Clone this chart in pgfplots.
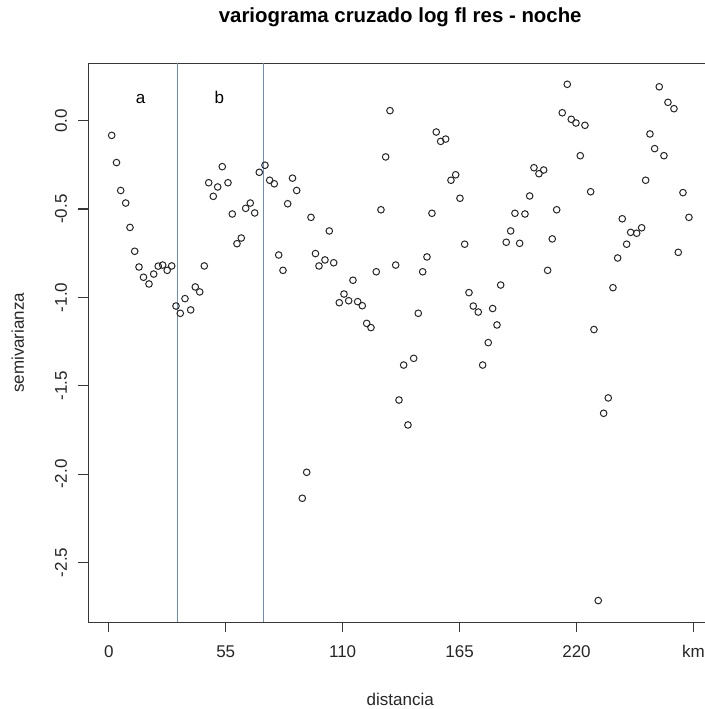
\documentclass[border=0pt]{standalone}
\usepackage{pgfplots}
\pgfplotsset{compat=1.18}
\usepackage{pgfplotstable}
\usepackage{fontspec}
\setmainfont{Liberation Sans}
\definecolor{vline}{RGB}{105,140,195}
\definecolor{axgray}{RGB}{55,55,55}
\pgfplotstableread{
x y
1.36 -0.083
3.62 -0.237
5.60 -0.395
7.95 -0.466
9.97 -0.604
12.18 -0.739
14.21 -0.828
16.32 -0.886
18.91 -0.924
21.12 -0.868
23.24 -0.823
25.35 -0.817
27.47 -0.847
29.59 -0.822
31.61 -1.049
33.63 -1.090
35.84 -1.007
38.52 -1.071
40.69 -0.941
42.76 -0.969
44.92 -0.822
46.99 -0.351
49.15 -0.428
51.22 -0.375
53.39 -0.260
56.07 -0.351
58.09 -0.528
60.30 -0.696
62.32 -0.664
64.39 -0.496
66.56 -0.466
68.63 -0.522
70.79 -0.292
73.47 -0.252
75.68 -0.337
77.85 -0.357
79.92 -0.760
81.94 -0.847
84.15 -0.470
86.41 -0.325
88.38 -0.395
91.02 -2.137
93.09 -1.990
95.11 -0.547
97.22 -0.752
98.87 -0.822
101.69 -0.788
103.72 -0.624
105.79 -0.804
108.42 -1.030
110.63 -0.981
112.84 -1.019
114.86 -0.903
117.07 -1.024
119.24 -1.047
121.31 -1.147
123.33 -1.171
125.82 -0.855
128.03 -0.504
130.24 -0.205
132.27 0.057
134.95 -0.817
136.50 -1.581
138.71 -1.383
140.73 -1.722
143.41 -1.345
145.58 -1.090
147.65 -0.855
149.67 -0.771
152.02 -0.524
154.04 -0.064
156.11 -0.117
158.47 -0.104
160.96 -0.337
163.17 -0.306
165.19 -0.439
167.40 -0.699
169.43 -0.973
171.45 -1.049
173.80 -1.083
175.87 -1.383
178.50 -1.256
180.57 -1.063
182.60 -1.156
184.34 -0.930
186.97 -0.688
189.04 -0.624
191.06 -0.524
193.27 -0.694
195.77 -0.528
197.98 -0.426
200.00 -0.266
202.35 -0.300
204.56 -0.279
206.44 -0.847
208.61 -0.669
210.68 -0.504
213.31 0.045
215.66 0.206
217.55 0.008
219.76 -0.013
221.78 -0.198
223.99 -0.026
226.67 -0.402
228.22 -1.182
230.24 -2.716
232.78 -1.656
234.95 -1.569
237.16 -0.945
239.37 -0.777
241.53 -0.555
243.60 -0.699
245.48 -0.632
248.31 -0.637
250.66 -0.606
252.54 -0.337
254.56 -0.075
256.77 -0.158
258.94 0.192
261.15 -0.198
263.03 0.104
265.85 0.068
267.88 -0.745
270.09 -0.407
272.91 -0.547
}\vario
\begin{document}
\begin{tikzpicture}
\begin{axis}[
  at={(88.3pt,86.7pt)}, anchor=south west,
  width=623.8pt, height=559pt, scale only axis,
  xmin=-9.64, xmax=283.8, ymin=-2.839, ymax=0.325,
  axis line style={axgray, line width=1.2pt},
  tick align=outside, major tick length=10pt,
  xtick pos=bottom, ytick pos=left,
  every tick/.append style={axgray, line width=1.1pt},
  xtick={0,55,110,165,220,275},
  xticklabels={0,55,110,165,220,km},
  ytick={0,-0.5,-1,-1.5,-2,-2.5},
  yticklabels={0.0,-0.5,-1.0,-1.5,-2.0,-2.5},
  tick label style={font=\fontsize{17}{20}\selectfont, inner sep=0pt, text=black!85},
  xticklabel style={anchor=base, yshift=-24.7pt},
  yticklabel style={xshift=-11.3pt, rotate=90, anchor=base},
  clip=false,
]
\addplot[color=vline, line width=1.3pt, no markers] coordinates {(32.4,-2.839) (32.4,0.325)};
\addplot[color=vline, line width=1.3pt, no markers] coordinates {(72.9,-2.839) (72.9,0.325)};
\addplot[only marks, mark=o, mark size=3.3pt, mark options={line width=1pt, draw=black!85}] table[x=x,y=y]{\vario};
\pgfplotsinvokeforeach{0,55,110,165,220,275}{
  \draw[axgray, line width=1.1pt] (axis cs:#1,-2.839) -- ++(0pt,-10pt);
}
\pgfplotsinvokeforeach{0,-0.5,-1,-1.5,-2,-2.5}{
  \draw[axgray, line width=1.1pt] (axis cs:-9.64,#1) -- ++(-10pt,0pt);
}
\node[anchor=base, font=\fontsize{17}{20}\selectfont] at (axis cs:15,0.098) {a};
\node[anchor=base, font=\fontsize{17}{20}\selectfont] at (axis cs:52,0.098) {b};
\end{axis}
\node[anchor=base, font=\bfseries\fontsize{20.4}{24}\selectfont] at (400.2pt,686pt) {variograma cruzado log fl res - noche};
\node[anchor=base, font=\fontsize{17}{20}\selectfont, text=black!85] at (400.2pt,3pt) {distancia};
\node[anchor=base, rotate=90, font=\fontsize{17}{20}\selectfont, text=black!85] at (24pt,366.2pt) {semivarianza};
\pgfresetboundingbox
\useasboundingbox (0pt,0pt) rectangle (704pt,709pt);
\end{tikzpicture}
\end{document}
